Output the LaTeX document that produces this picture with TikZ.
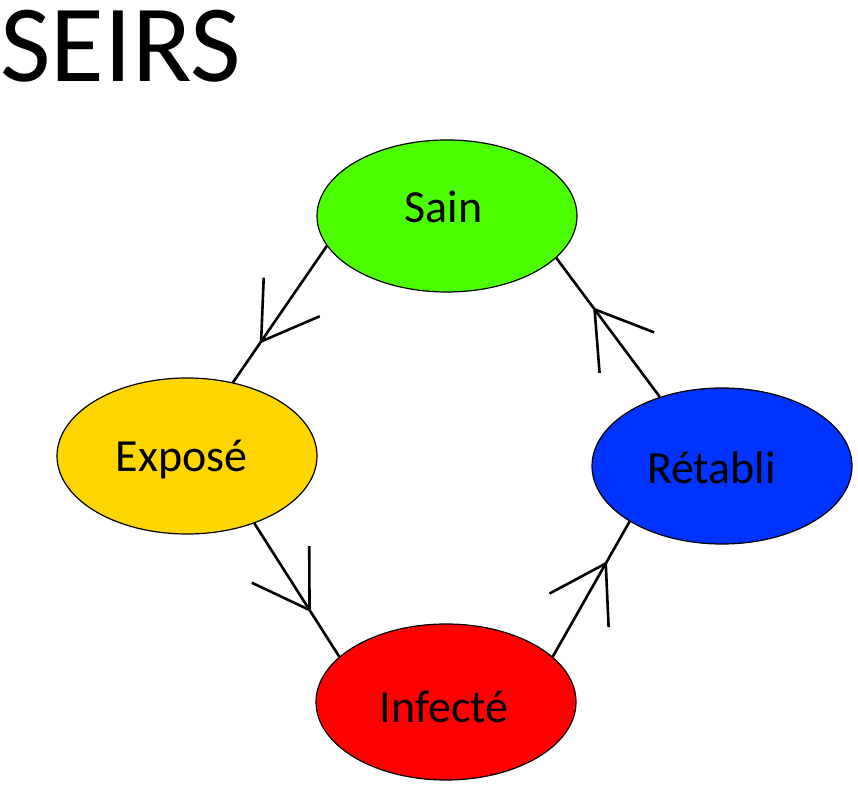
\documentclass[tikz,border=0pt]{standalone}
\usepackage{fontspec}
\setmainfont{Carlito}
\usetikzlibrary{shapes.geometric,decorations.markings}
\definecolor{cSain}{RGB}{76,255,0}
\definecolor{cExpo}{RGB}{255,214,0}
\definecolor{cInf}{RGB}{255,0,0}
\definecolor{cRet}{RGB}{0,51,255}
\tikzset{
  state/.style={ellipse, draw=black, line width=1.2pt, minimum width=260pt,
    minimum height=156pt, inner sep=0pt, font=\fontsize{46}{50}\selectfont,
    text depth=0pt},
  flow/.style={line width=2.6pt, postaction={decorate},
    decoration={markings, mark=at position #1 with {
      \draw[line width=2.6pt] (-54pt,34pt) -- (0pt,0pt) -- (-54pt,-34pt);}}},
  ttl/.style={anchor=base west, inner sep=0pt, font=\fontsize{110}{120}\selectfont}
}
\begin{document}
\begin{tikzpicture}[x=1pt,y=1pt]
\useasboundingbox (0,0) rectangle (858,789);
\node[ttl] (title) at (0,707) {SEIRS};
\node[state, fill=cSain, minimum height=152pt, text height=14pt] (sain) at (447,573) {Sain\kern7pt};
\node[state, fill=cExpo, text height=32pt] (expose) at (187,333) {Exposé\kern11pt};
\node[state, fill=cRet, text height=36pt] (retabli) at (722,323) {Rétabli\kern21pt};
\node[state, fill=cInf, text height=40pt] (infecte) at (446,87) {Infecté\kern4pt};
\draw[flow=0.70] (sain.194) -- (expose.58);
\draw[flow=0.65] (expose.315) -- (infecte.157);
\draw[flow=0.69] (infecte.23) -- (retabli.211);
\draw[flow=0.63] (retabli.132) -- (sain.339);
\end{tikzpicture}
\end{document}
